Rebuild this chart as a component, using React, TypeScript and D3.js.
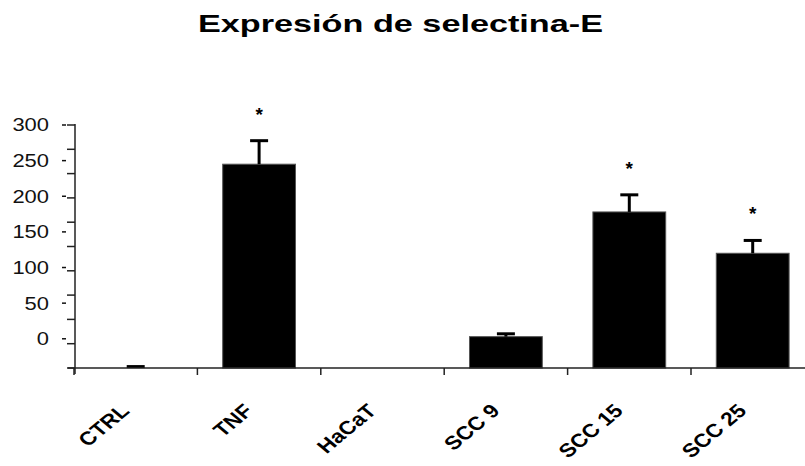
import * as d3 from "d3";

const categories = ["CTRL", "TNF", "HaCaT", "SCC 9", "SCC 15", "SCC 25"];
// bar tops and error-bar tops, in the units of the axis labels
const means = [-41, 245, -41, 3, 178, 120];
const errorTops: (number | null)[] = [-39, 278, null, 7, 202, 138];
const significant = [false, true, false, false, true, true];
const yTickLabels = [0, 50, 100, 150, 200, 250, 300];

const W = 805;
const H = 466;
const FONT = "'Liberation Sans', Arial, sans-serif";

export default function App() {
  const x = d3
    .scaleBand()
    .domain(categories)
    .range([74, 74 + 6 * 123.4])
    .paddingInner(0.41)
    .paddingOuter(0.205);

  const y = d3.scaleLinear().domain([-41, 300]).range([368, 125]);
  const [yMin, yMax] = y.domain();
  const base = y(yMin);
  const axisX = 75;

  // axis tick marks: ten equal steps along the axis
  const minorTicks = d3.range(11).map((i) => yMin + (i * (yMax - yMin)) / 10);
  const catTicks = categories.map((c) => (x(c) || 0) - (x.step() * x.paddingInner()) / 2);

  return (
    <svg
      width={W}
      height={H}
      viewBox={`0 0 ${W} ${H}`}
      style={{ position: "absolute", left: 0, top: 0, background: "#fff" }}
    >
      <text
        x={W / 2 - 2}
        y={32}
        textAnchor="middle"
        fontFamily={FONT}
        fontWeight="bold"
        fontSize={24}
        textLength={405}
        lengthAdjust="spacingAndGlyphs"
        fill="#000"
      >
        Expresión de selectina-E
      </text>

      {/* bars */}
      {categories.map((c, i) => {
        const h = base - y(means[i]);
        if (h <= 0) return null;
        return (
          <rect
            key={c}
            x={x(c)}
            y={y(means[i])}
            width={x.bandwidth()}
            height={h}
            fill="#000"
            stroke="#555"
            strokeWidth={1}
          />
        );
      })}

      {/* error bars */}
      {categories.map((c, i) => {
        const top = errorTops[i];
        if (top === null) return null;
        const cx = (x(c) || 0) + x.bandwidth() / 2;
        return (
          <g key={c} stroke="#000" strokeWidth={3}>
            <line x1={cx} x2={cx} y1={y(means[i])} y2={y(top)} />
            <line x1={cx - 9} x2={cx + 9} y1={y(top)} y2={y(top)} />
          </g>
        );
      })}

      {/* asterisks */}
      {categories.map((c, i) =>
        significant[i] ? (
          <text
            key={c}
            x={(x(c) || 0) + x.bandwidth() / 2}
            y={y(errorTops[i] as number) - 20}
            textAnchor="middle"
            fontFamily={FONT}
            fontWeight="bold"
            fontSize={19}
            fill="#000"
          >
            *
          </text>
        ) : null,
      )}

      {/* y axis */}
      <line x1={axisX} x2={axisX} y1={y(yMax) - 1} y2={base + 6} stroke="#222" strokeWidth={1.5} />
      {minorTicks.map((t, i) => (
        <line key={i} x1={axisX - 8} x2={axisX} y1={y(t)} y2={y(t)} stroke="#222" strokeWidth={1.5} />
      ))}
      {yTickLabels.map((v) => (
        <g key={v} transform={`translate(49,${y(v)})`}>
          <text
            transform="scale(1.22,1)"
            textAnchor="end"
            dy="0.36em"
            fontFamily={FONT}
            fontSize={18}
            fill="#111"
          >
            {v}
          </text>
          <line x1={13} x2={17} y1={0} y2={0} stroke="#111" strokeWidth={1.5} />
        </g>
      ))}

      {/* x axis */}
      <line x1={68} x2={W} y1={base} y2={base} stroke="#222" strokeWidth={1.5} />
      {catTicks.map((t, i) => (
        <line key={i} x1={t} x2={t} y1={base} y2={base + 7} stroke="#222" strokeWidth={1.5} />
      ))}
      {categories.map((c) => {
        const cx = (x(c) || 0) + x.bandwidth() / 2;
        return (
          <text
            key={c}
            transform={`translate(${cx - 5},${base + 44}) scale(1.2,1) rotate(-45)`}
            textAnchor="end"
            fontFamily={FONT}
            fontWeight="bold"
            fontSize={19}
            fill="#000"
          >
            {c}
          </text>
        );
      })}
    </svg>
  );
}
